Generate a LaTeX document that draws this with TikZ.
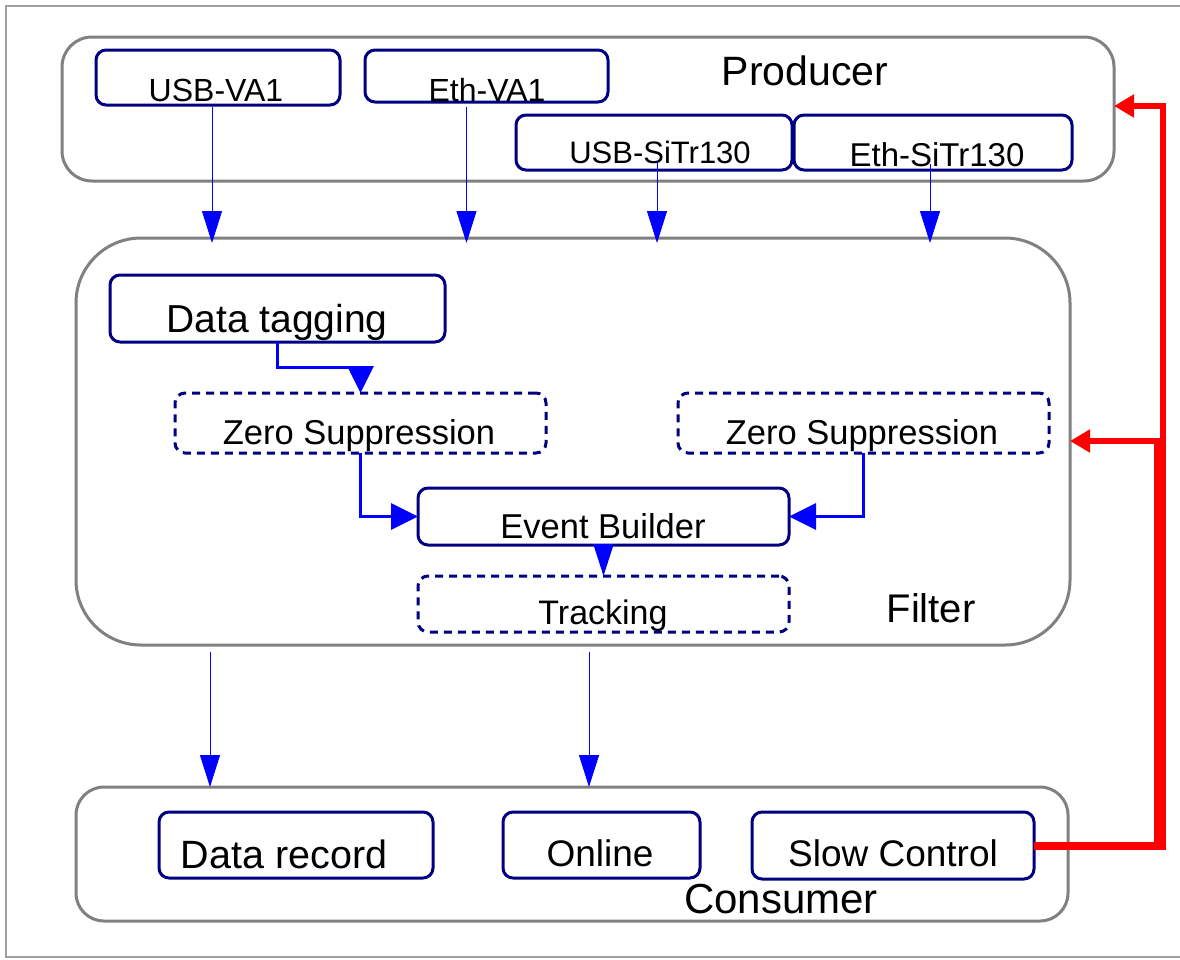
\documentclass[tikz,border=0pt]{standalone}
\usepackage{fontspec}
\setmainfont{Liberation Sans}
\usetikzlibrary{arrows.meta,calc}
\definecolor{navyc}{RGB}{0,0,128}
\definecolor{grpc}{RGB}{128,128,128}
\definecolor{framec}{RGB}{160,160,160}
\definecolor{bluec}{RGB}{0,0,255}
\definecolor{redc}{RGB}{255,0,0}
\newcommand\myfs[1]{\fontsize{#1}{#1}\selectfont}
\tikzset{
  grp/.style={draw=grpc, line width=3pt, inner sep=0pt, outer sep=0pt},
  box/.style={draw=navyc, line width=3pt, rounded corners=10pt, inner sep=0pt, outer sep=0pt},
  dbox/.style={box, dash pattern=on 8pt off 6pt},
  txt/.style={anchor=base, inner sep=0pt, outer sep=0pt, text=black},
  tarr/.style={draw=bluec, line width=1pt, -{Triangle[length=32pt,width=20pt]}},
  karr/.style={draw=bluec, line width=3pt, -{Triangle[length=27pt,width=26pt]}},
  rl/.style={draw=redc},
  rtip/.style={-{Triangle[length=20pt,width=22pt]}},
}
\begin{document}
\begin{tikzpicture}[x=1pt,y=-1pt]
\useasboundingbox (0,0) rectangle (1180,959);
\draw[framec, line width=2pt] (6,6) rectangle (1200,957);

% group boxes
\node[grp, rounded corners=30pt, minimum width=1052pt, minimum height=144pt] (prod) at (588,109) {};
\node[grp, rounded corners=65pt, minimum width=994pt, minimum height=407pt] (filt) at (573,441.5) {};
\node[grp, rounded corners=28pt, minimum width=992pt, minimum height=134pt] (cons) at (572,854) {};

\node[txt, font=\myfs{41}] (lprod) at (805,85) {Producer};
\node[txt, font=\myfs{40}] (lfilt) at (931,622) {Filter};
\node[txt, font=\myfs{42}] (lcons) at (781,913) {Consumer};

% producer boxes
\node[box, minimum width=244pt, minimum height=55pt] (usbva) at (218,77.5) {};
\node[box, minimum width=243pt, minimum height=52pt] (ethva) at (486.5,76) {};
\node[box, minimum width=276pt, minimum height=55pt] (usbsi) at (654,142.5) {};
\node[box, minimum width=278pt, minimum height=55pt] (ethsi) at (933,142.5) {};
\node[txt, font=\myfs{32}] (tusbva) at (216,101) {USB-VA1};
\node[txt, font=\myfs{32}] (tethva) at (487,101) {Eth-VA1};
\node[txt, font=\myfs{31}] (tusbsi) at (660,163) {USB-SiTr130};
\node[txt, font=\myfs{33}] (tethsi) at (937,166) {Eth-SiTr130};

% filter boxes
\node[box, minimum width=335pt, minimum height=67pt] (dt) at (277.5,308.5) {};
\node[dbox, minimum width=371pt, minimum height=60pt] (zsl) at (360.5,423) {};
\node[dbox, minimum width=371pt, minimum height=60pt] (zsr) at (863.5,423) {};
\node[box, minimum width=371pt, minimum height=57pt] (eb) at (603.5,516.5) {};
\node[dbox, minimum width=371pt, minimum height=56pt] (trk) at (603.5,604) {};
\node[txt, font=\myfs{39}] (tdt) at (277,332) {Data tagging};
\node[txt, font=\myfs{34.5}] (tzsl) at (359,444) {Zero Suppression};
\node[txt, font=\myfs{34.5}] (tzsr) at (862,444) {Zero Suppression};
\node[txt, font=\myfs{34.5}] (teb) at (603,538) {Event Builder};
\node[txt, font=\myfs{34}] (ttrk) at (603,624) {Tracking};

% consumer boxes
\node[box, minimum width=274pt, minimum height=66pt] (dr) at (296,845) {};
\node[box, minimum width=197pt, minimum height=66pt] (onl) at (601.5,845) {};
\node[box, minimum width=282pt, minimum height=67pt] (sc) at (893,845.5) {};
\node[txt, font=\myfs{39.5}] (tdr) at (284,868) {Data record};
\node[txt, font=\myfs{37}] (tonl) at (600,866) {Online};
\node[txt, font=\myfs{37}] (tsc) at (893,866) {Slow Control};

% producer -> filter
\draw[tarr, shorten >=-5pt] ([xshift=-6pt,yshift=-2pt]usbva.south) -- ([xshift=-6pt]usbva.south |- filt.north);
\draw[tarr, shorten >=-5pt] ([xshift=-20pt,yshift=-5pt]ethva.south) -- ([xshift=-20pt]ethva.south |- filt.north);
\draw[tarr, shorten >=-5pt] ([xshift=3pt,yshift=9pt]usbsi.south) -- ([xshift=3pt]usbsi.south |- filt.north);
\draw[tarr, shorten >=-5pt] ([xshift=-3pt,yshift=6pt]ethsi.south) -- ([xshift=-3pt]ethsi.south |- filt.north);

% inside filter
\draw[karr] (dt.south) -- ++(0,25) -| (zsl.north);
\draw[karr] (zsl.south) |- (eb.west);
\draw[karr] (zsr.south) |- (eb.east);
\draw[tarr, line width=2pt] (eb.south) -- (trk.north);

% filter -> consumer
\coordinate (fd1) at (210,652);
\coordinate (fd2) at (589,652);
\draw[tarr] (fd1) -- (fd1 |- cons.north);
\draw[tarr] (fd2) -- (fd2 |- cons.north);

% red slow control feedback
\coordinate (rm) at (1160,441);
\coordinate (rt) at (1163,106);
\coordinate (ru) at (1163,447);
\draw[rl, line width=8pt] (sc.east) -- ([xshift=6pt]sc.east -| rm);
\draw[rl, line width=12pt] ([yshift=-4pt]sc.east -| rm) -- ([yshift=3pt]rm);
\draw[rl, line width=6pt, rtip] (ru) -- (rt) -- (prod.east |- rt);
\draw[rl, line width=6pt, rtip] ([xshift=3pt]rm) -- (filt.east |- rm);
\end{tikzpicture}
\end{document}
